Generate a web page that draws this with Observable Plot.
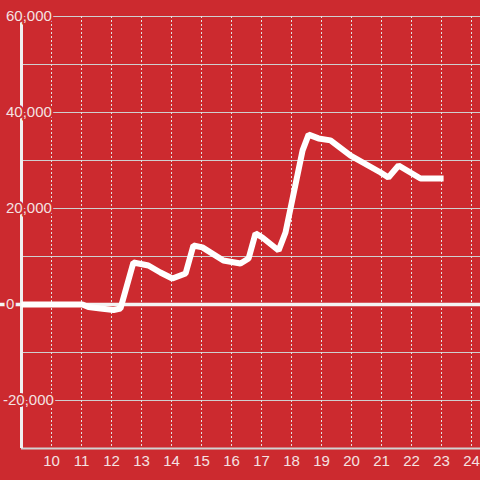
<!DOCTYPE html>
<html>
<head>
<meta charset="utf-8">
<script src="https://cdn.jsdelivr.net/npm/d3@7"></script>
<script src="https://cdn.jsdelivr.net/npm/@observablehq/plot@0.6"></script>
<style>
  html, body { margin: 0; padding: 0; background: #cc2a2f; }
  #chart { width: 480px; height: 480px; }
</style>
</head>
<body>
<div id="chart"></div>
<script>
const hours = [9.0, 11.03, 11.23, 11.63, 12.07, 12.3, 12.73, 13.23, 13.63, 14.03, 14.47, 14.73, 15.03, 15.73, 16.3, 16.57, 16.8, 17.03, 17.57, 17.8, 18.37, 18.57, 18.9, 19.3, 19.97, 20.97, 21.23, 21.57, 22.3, 23.07];
const values = [0, 0, -520, -830, -1150, -830, 8750, 8125, 6670, 5420, 6460, 12300, 11900, 9170, 8540, 9580, 14800, 13960, 11250, 15000, 32100, 35400, 34600, 34200, 31000, 27500, 26460, 28960, 26250, 26250];
const xTicks = [10, 11, 12, 13, 14, 15, 16, 17, 18, 19, 20, 21, 22, 23, 24];
const yGrid = [-20000, -10000, 10000, 20000, 30000, 40000, 50000, 60000];
const yLabels = [60000, 40000, 20000, 0, -20000];

const bg = "#cc2a2f";
const labelColor = "#f4e2e2";
const data = hours.map((h, i) => ({h, v: values[i]}));
const fmt = d3.format(",");
const labelStyle = {
  y: d => d,
  frameAnchor: "left",
  textAnchor: "start",
  text: d => fmt(d).replace("−", "-"),
  fill: labelColor,
  stroke: bg,
  strokeWidth: 4,
  paintOrder: "stroke",
  fontSize: 15
};

const chart = Plot.plot({
  width: 480,
  height: 480,
  marginLeft: 21,
  marginRight: 0,
  marginTop: 16,
  marginBottom: 32,
  style: {background: bg, fontFamily: "'Liberation Sans', Arial, sans-serif", fontSize: "15px", color: labelColor},
  x: {domain: [9, 24.3], axis: null},
  y: {domain: [-30000, 60000], axis: null},
  marks: [
    Plot.ruleY(yGrid, {stroke: "#cfcfcf", strokeWidth: 1}),
    Plot.ruleX(xTicks, {stroke: "#e2e2e2", strokeWidth: 1, strokeDasharray: "2,2"}),
    Plot.ruleY([-30000], {stroke: "#d2d2d2", strokeWidth: 2}),
    Plot.ruleX([9], {stroke: "#f0f0f0", strokeWidth: 3}),
    Plot.ruleY([0], {stroke: "#f4f4f4", strokeWidth: 3.5, insetLeft: -21}),
    Plot.line(data, {x: "h", y: "v", stroke: "#ffffff", strokeWidth: 6, strokeLinejoin: "miter", strokeLinecap: "butt"}),
    Plot.axisX(xTicks, {tickSize: 0, tickPadding: 7, fill: labelColor, fontSize: 15, label: null}),
    Plot.text(yLabels.filter(d => d >= 0), {...labelStyle, dx: -15.5}),
    Plot.text(yLabels.filter(d => d < 0), {...labelStyle, dx: -18.5})
  ]
});
document.getElementById("chart").append(chart);
</script>
</body>
</html>
